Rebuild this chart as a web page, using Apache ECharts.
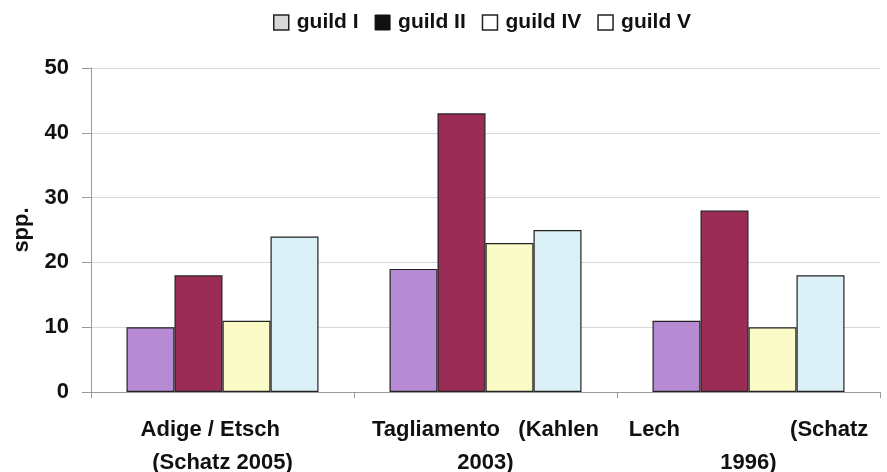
<!DOCTYPE html>
<html><head><meta charset="utf-8">
<script src="https://cdn.jsdelivr.net/npm/echarts@6/dist/echarts.min.js"></script>
<style>html,body{margin:0;padding:0;background:#fff}#c{width:887px;height:472px}</style>
</head><body><div id="c"></div>
<script>
const categories = ["Adige / Etsch    \n(Schatz 2005)", "Tagliamento   (Kahlen\n2003)", "Lech                  (Schatz\n1996)"];
const seriesNames = ["guild I", "guild II", "guild IV", "guild V"];
const guildI = [10, 19, 11];
const guildII = [18, 43, 28];
const guildIV = [11, 23, 10];
const guildV = [24, 25, 18];
const yTicks = [0, 10, 20, 30, 40, 50];

const colors = ["#b68bd4", "#9a2c55", "#fafbc6", "#dcf0f8"];
const legendIcons = [
  {color: "#d8d8d8", borderColor: "#222", borderWidth: 1.5},
  {color: "#111", borderColor: "#111", borderWidth: 1},
  {color: "#fff", borderColor: "#222", borderWidth: 1.5},
  {color: "#fff", borderColor: "#222", borderWidth: 1.5}
];
const values = [guildI, guildII, guildIV, guildV];
const font = 'Liberation Sans, Arial, sans-serif';

const chart = echarts.init(document.getElementById('c'));
chart.setOption({
  animation: false,
  backgroundColor: '#fff',
  legend: {
    top: 7, left: 268,
    itemWidth: 15, itemHeight: 15, itemGap: 16,
    icon: 'rect',
    textStyle: {fontFamily: font, fontWeight: 'bold', fontSize: 21, color: '#111', padding: [0,0,0,3]},
    data: seriesNames.map((n, i) => ({name: n, itemStyle: legendIcons[i]}))
  },
  grid: {left: 91, right: 7, top: 68, bottom: 80, outerBoundsMode: 'none', containLabel: false},
  xAxis: {
    type: 'category', data: categories,
    axisLine: {lineStyle: {color: '#999', width: 1}},
    axisTick: {show: true, length: 6, lineStyle: {color: '#999'}},
    axisLabel: {interval: 0, hideOverlap: false, fontFamily: font, fontWeight: 'bold', fontSize: 22, color: '#111', lineHeight: 33, margin: 21}
  },
  yAxis: {
    type: 'value', min: 0, max: 50, interval: 10,
    name: 'spp.', nameLocation: 'middle', nameGap: 58, nameRotate: 90,
    nameTextStyle: {fontFamily: font, fontWeight: 'bold', fontSize: 22, color: '#111'},
    axisLine: {show: true, lineStyle: {color: '#999'}},
    axisTick: {show: true, inside: false, length: 9, lineStyle: {color: '#999'}},
    axisLabel: {fontFamily: font, fontWeight: 'bold', fontSize: 22, color: '#111', margin: 22,
      formatter: v => yTicks.includes(v) ? String(v) : ''},
    splitLine: {lineStyle: {color: '#d8d8d8'}}
  },
  series: values.map((d, i) => ({
    name: seriesNames[i], type: 'bar', data: d,
    barGap: '0%', barCategoryGap: '27%',
    itemStyle: {color: colors[i], borderColor: '#222', borderWidth: 1.2}
  }))
});
</script></body></html>
